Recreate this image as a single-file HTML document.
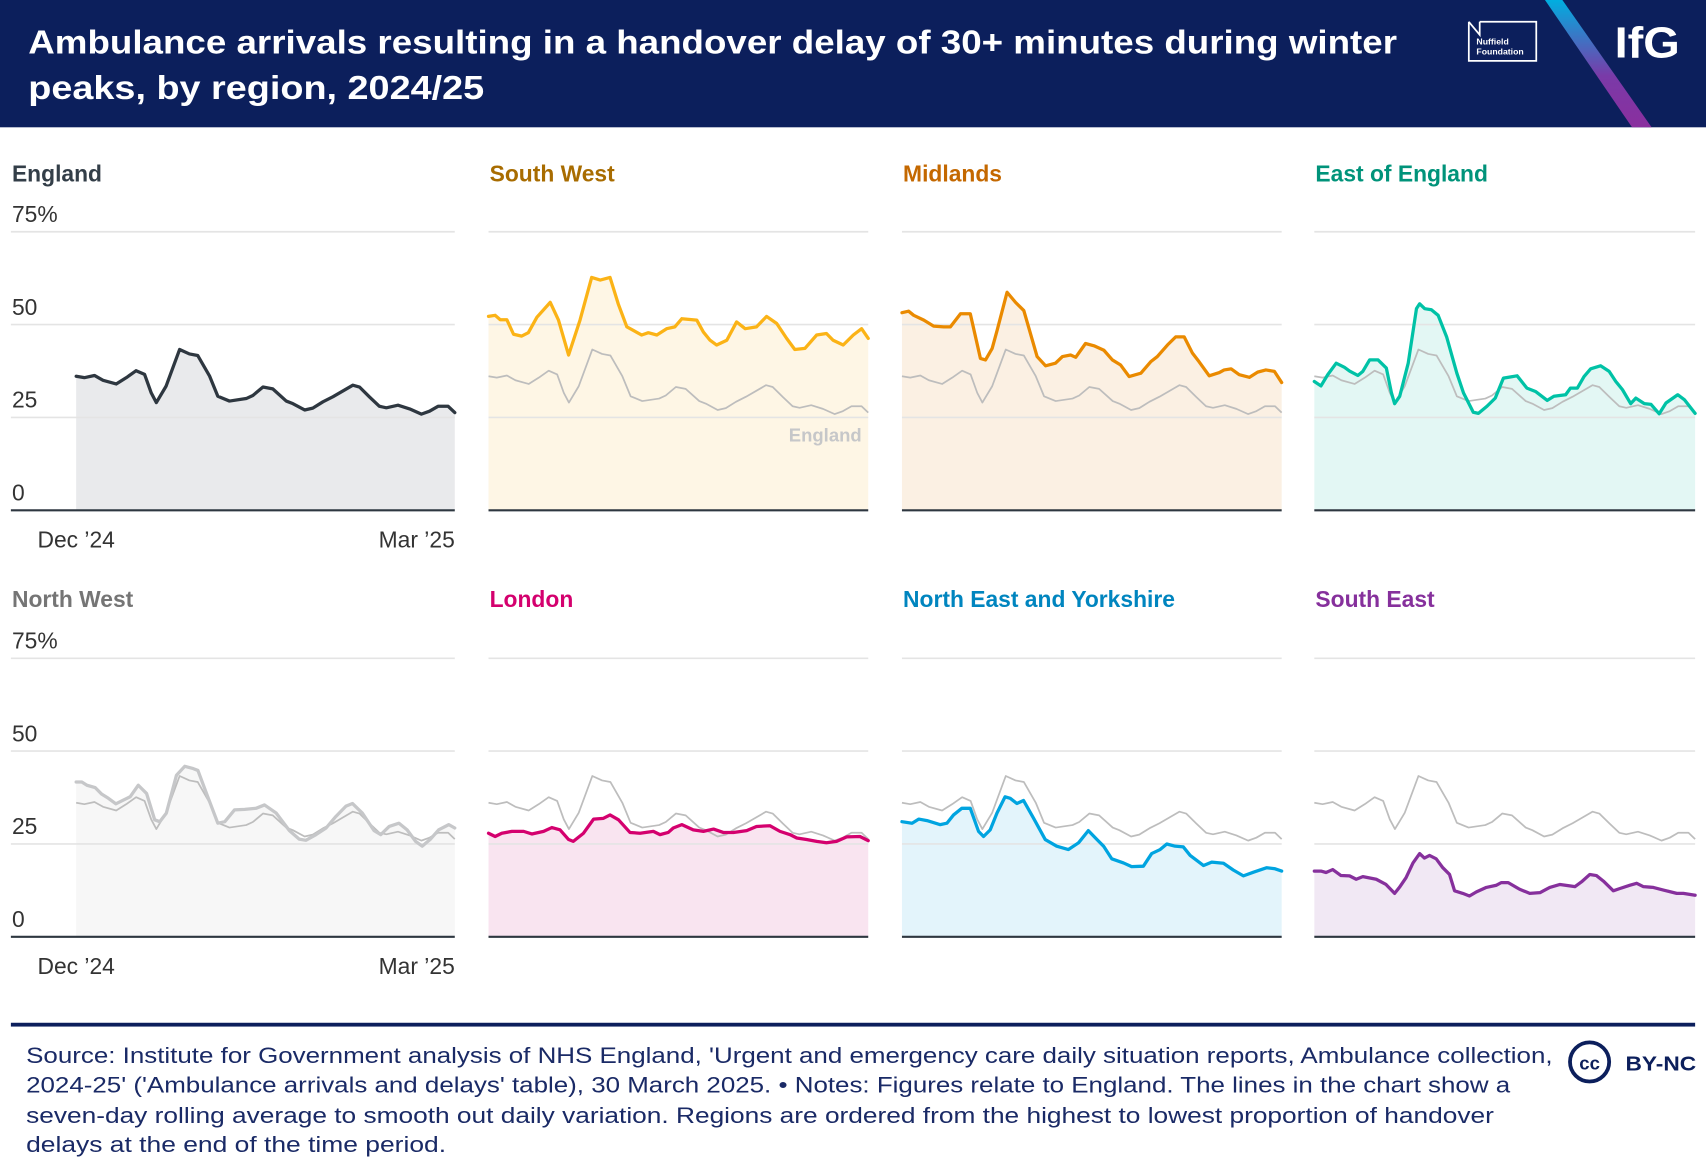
<!DOCTYPE html>
<html><head><meta charset="utf-8"><style>
html,body{margin:0;padding:0;background:#fff;}
svg{display:block;font-family:"Liberation Sans",sans-serif;}
</style></head><body>
<svg id="chart" width="1706" height="1174" viewBox="0 0 1568 1079" preserveAspectRatio="none" xmlns="http://www.w3.org/2000/svg">
<defs><linearGradient id="stripe" x1="0" y1="0" x2="0" y2="1"><stop offset="0" stop-color="#00aee0"/><stop offset="0.6" stop-color="#7a3aa8"/><stop offset="1" stop-color="#8a2f9e"/></linearGradient></defs>
<g>
<rect x="0" y="0" width="1568" height="117" fill="#0c1f5c"/>
<text x="26" y="49" fill="#fff" font-weight="bold" font-size="31" textLength="1258" lengthAdjust="spacingAndGlyphs">Ambulance arrivals resulting in a handover delay of 30+ minutes during winter</text>
<text x="26" y="91" fill="#fff" font-weight="bold" font-size="31" textLength="419" lengthAdjust="spacingAndGlyphs">peaks, by region, 2024/25</text>
<g>
<path d="M1350 20 L1350 56 L1412 56 L1412 20 L1360 20" fill="none" stroke="#fff" stroke-width="1.6"/>
<path d="M1350 20 L1360 32 L1360 20" fill="none" stroke="#fff" stroke-width="1.6"/>
<text x="1357" y="41" fill="#fff" font-size="8" font-weight="bold">Nuffield</text>
<text x="1357" y="50" fill="#fff" font-size="8" font-weight="bold">Foundation</text>
</g>
<polygon points="1420,0 1436,0 1518,117 1500,117" fill="url(#stripe)"/>
<text x="1484" y="53" fill="#fff" font-weight="bold" font-size="40" textLength="60" lengthAdjust="spacingAndGlyphs">IfG</text>
</g>
<g id="panels"></g>
<g>
<rect x="10" y="940" width="1548" height="3.5" fill="#0c1f5c"/>
<g fill="#1a2a66" font-size="20">
<text x="24" y="977" textLength="1403" lengthAdjust="spacingAndGlyphs">Source: Institute for Government analysis of NHS England, 'Urgent and emergency care daily situation reports, Ambulance collection,</text>
<text x="24" y="1004" textLength="1364" lengthAdjust="spacingAndGlyphs">2024-25' ('Ambulance arrivals and delays' table), 30 March 2025. • Notes: Figures relate to England. The lines in the chart show a</text>
<text x="24" y="1032" textLength="1349" lengthAdjust="spacingAndGlyphs">seven-day rolling average to smooth out daily variation. Regions are ordered from the highest to lowest proportion of handover</text>
<text x="24" y="1059" textLength="386" lengthAdjust="spacingAndGlyphs">delays at the end of the time period.</text>
</g>
<g>
<circle cx="1461" cy="976" r="18" fill="none" stroke="#0c1f5c" stroke-width="3.5"/>
<text x="1461" y="983" text-anchor="middle" font-size="17" font-weight="bold" fill="#0c1f5c">cc</text>
<text x="1494" y="984" font-size="19" font-weight="bold" fill="#0c1f5c" textLength="65" lengthAdjust="spacingAndGlyphs">BY-NC</text>
</g>
</g>
</svg>
<script>
const engDays=[0,2.6,5.8,8.5,12.7,15.9,19,21.7,23.8,25.4,28.5,32.8,35.9,38.5,42.3,44.9,48.6,53.9,56,59.2,62.3,66.6,68.7,72.4,75,78.2,81.4,87.7,89.8,93,96.1,98.3,102,105.7,109.4,112,114.7,117.9,120];
const engValues=[36.1,35.7,36.3,35,34,35.7,37.6,36.6,31.6,29,33.4,43.3,42.1,41.7,36.1,30.7,29.4,30.1,30.9,33.2,32.7,29.4,28.7,27,27.5,29.2,30.6,33.7,33.2,30.5,28,27.6,28.3,27.3,25.9,26.7,28,28,26.3];
const swDays=[0,2.1,3.7,5.8,7.9,10.5,12.6,15.3,19.5,22.1,25.3,28.9,32.6,35.3,38.4,41,43.7,48.4,50.5,53.2,56.3,58.9,61.1,65.8,67.9,70,72.1,75.3,78.4,81.1,84.7,87.9,91.1,94.2,96.8,100,103.7,106.8,108.9,112.1,115.3,117.9,120];
const swValues=[52.2,52.5,51.3,51.3,47.4,46.9,47.8,52,56,51.2,41.8,51.2,62.7,62,62.7,55.6,49.4,47.2,47.8,47.2,48.9,49.4,51.6,51.2,48,45.8,44.5,45.8,50.7,48.9,49.4,52.2,50.3,46.3,43.3,43.6,47.2,47.6,45.8,44.5,47.2,48.9,46.3];
const midDays=[0,2.1,3.7,6.9,10,13.2,15.3,18.5,21.6,24.8,26.4,28.5,30.1,33.2,35.9,38.5,42.7,45.4,48.5,50.7,53.3,54.9,58,60.7,63.8,66.5,69.1,71.8,75.5,78.6,80.7,83.9,86.5,89.2,91.8,93.9,97.1,100.3,101.8,104,106.6,109.8,112.4,115,117.7,120];
const midValues=[53.2,53.6,52.5,51.2,49.6,49.4,49.4,52.9,52.9,40.9,40.5,43.6,48.5,58.7,56,53.8,41.4,38.9,39.6,41.4,41.8,41.2,44.9,44.3,43.1,40.5,39.1,36,36.9,40,41.4,44.5,46.7,46.7,42.3,40,36.2,37.1,37.8,38.1,36.5,35.8,37.2,37.8,37.4,34.4];
const eoeDays=[0,2.1,4.2,6.9,9.5,11.1,13.7,15.3,17.4,20.1,22.7,24.3,25.3,26.9,29.6,32.2,33.2,34.8,36.9,39,41.7,44.9,47,50.1,51.7,54.4,57,59.6,61.7,63.9,67,69.7,73.4,75.5,79.2,80.7,82.9,85,87.1,90.2,92.9,95,97.1,99.7,101.3,104,106.1,108.7,110.8,114.5,116.6,120];
const eoeValues=[34.7,33.5,36.5,39.6,38.5,37.5,36.3,37.4,40.5,40.5,38.3,31.6,28.7,30.7,39.6,54.3,55.6,54.3,54,52.5,46.7,36.9,31.6,26.4,26.1,28,30.2,35.6,35.9,36.2,32.9,32,29.6,30.7,31.1,32.9,32.9,36,38.1,38.9,37.4,34.7,32.5,28.7,30.2,28.7,28.5,26,28.9,31.1,29.8,26.1];
const nwDays=[0,1.8,3.4,6,8.1,10.2,12.6,14.9,17.1,19.7,22.3,24.9,26.5,28.6,31.8,34.4,37.1,38.6,41.3,44.9,47.1,50.2,53.4,57,59.7,63.4,67.6,70.7,72.8,76,79.2,82.3,85.5,87.6,90.7,94.4,96.5,99.2,102.3,104.9,107.6,109.7,112.3,114.9,118.1,120];
const nwValues=[41.7,41.7,40.8,40.2,38.4,37.3,35.8,36.8,37.7,40.8,38.6,31.5,31,33.3,43.5,45.9,45.3,44.8,38.6,30.6,31,34.2,34.3,34.6,35.5,33.3,28.6,26.3,26,27.5,29.3,32.4,35.2,35.9,33.3,28.6,27.5,29.7,30.6,28.8,25.7,24.4,26.3,28.8,30.2,29.3];
const lonDays=[0,2.1,4.2,7.4,11.1,13.7,17.4,20,22.6,25.3,26.8,30,33.2,36.3,38.4,41.1,44.7,47.9,52.1,54.2,56.8,58.4,61.1,64.7,67.9,71.1,74.2,77.4,81.6,84.7,88.9,92.1,95.3,97.4,100.5,103.7,106.8,110,113.2,117.4,120];
const lonValues=[27.9,27,27.9,28.4,28.4,27.7,28.4,29.4,28.8,26.2,25.7,27.9,31.7,31.9,32.8,31.5,28.1,27.9,28.4,27.5,28.1,29.3,30.2,28.8,28.4,29,28.1,28.1,28.6,29.7,29.9,28.4,27.5,26.6,26.2,25.7,25.3,25.7,26.9,27,25.9];
const neyDays=[0,3.2,5.3,7.9,12.1,14.2,16.3,18.9,21.6,24.2,25.8,27.9,30,32.6,34.2,36.3,38.4,41.6,45.3,48.9,52.6,55.8,58.9,61.6,63.7,66.3,70,72.6,76.3,78.9,81.6,83.7,86.3,88.9,91.1,95.3,97.9,101.6,104.7,107.9,111.1,115.3,117.9,120];
const neyValues=[31,30.6,31.7,31.3,30.2,30.6,32.8,34.6,34.6,28.4,27,28.8,33.3,37.7,37.3,35.9,36.7,31.9,26.2,24.4,23.5,25.3,28.6,26.2,24.4,21,19.9,18.9,19,22.4,23.5,25,24.4,24.2,21.9,19.2,20.1,19.8,18,16.4,17.4,18.6,18.3,17.7];
const seDays=[0,2.1,3.7,5.8,8.4,11.1,13.2,15.3,19.5,22.6,25.3,26.8,28.9,31.1,33.2,34.7,36.3,38.4,40.5,42.6,44.2,46.8,48.9,51.1,54.2,57.4,58.9,61.1,64.7,67.9,71.1,74.2,77.4,80.5,82.1,84.2,86.8,88.9,91.1,94.2,96.3,99.5,101.6,103.7,106.8,110,114.2,116.3,120];
const seValues=[17.7,17.7,17.3,18.1,16.5,16.4,15.5,16.2,15.5,14.1,11.7,13.3,15.9,19.9,22.4,21.2,21.9,21,18.6,16.8,12.4,11.7,11,12.1,13.3,13.9,14.6,14.6,12.8,11.7,11.9,13.3,14.1,13.7,13.5,14.8,16.8,16.5,15,12.4,13,13.9,14.4,13.5,13.3,12.6,11.7,11.7,11.2];
const yTicks=[0,25,50,75];
const yTickLabels=["0","25","50","75%"];
const xTickLabels=["Dec \u201924","Mar \u201925"];
const dayMax=120, valMax=75;

const NS="http://www.w3.org/2000/svg";
const root=document.getElementById('panels');
function mk(tag,attrs,parent){const e=document.createElementNS(NS,tag);for(const k in attrs)e.setAttribute(k,attrs[k]);parent.appendChild(e);return e;}
const panels=[
 {name:'england',title:'England',tc:'#333e48',lc:'#2e3740',fc:'#e9eaec',days:engDays,vals:engValues,col:0,row:0,ref:false,axis:true},
 {name:'south-west',title:'South West',tc:'#a86c00',lc:'#fbb316',fc:'#fef6e5',days:swDays,vals:swValues,col:1,row:0,ref:true,label:true},
 {name:'midlands',title:'Midlands',tc:'#c46800',lc:'#ea8a00',fc:'#fbf0e3',days:midDays,vals:midValues,col:2,row:0,ref:true},
 {name:'east-of-england',title:'East of England',tc:'#00937a',lc:'#00c2a6',fc:'#e3f7f4',days:eoeDays,vals:eoeValues,col:3,row:0,ref:true},
 {name:'north-west',title:'North West',tc:'#757575',lc:'#c6c7c9',fc:'#f7f7f7',days:nwDays,vals:nwValues,col:0,row:1,ref:true,axis:true},
 {name:'london',title:'London',tc:'#d4006e',lc:'#d4006e',fc:'#f9e4f0',days:lonDays,vals:lonValues,col:1,row:1,ref:true},
 {name:'north-east-and-yorkshire',title:'North East and Yorkshire',tc:'#0085bf',lc:'#00a4e0',fc:'#e3f4fb',days:neyDays,vals:neyValues,col:2,row:1,ref:true},
 {name:'south-east',title:'South East',tc:'#86309c',lc:'#86309c',fc:'#f1e8f4',days:seDays,vals:seValues,col:3,row:1,ref:true}
];
const colX=[[70,418],[449,798],[829,1178],[1208,1558]];
const gridStart=[10,449,829,1208];
const rowBase=[469,861], rowTop=[213,605], rowOff=[0,391];
panels.forEach(p=>{
 const g=mk('g',{},root);
 
 
 const x0=colX[p.col][0],x1=colX[p.col][1],base=rowBase[p.row],top=rowTop[p.row],off=rowOff[p.row];
 const xs=d=>x0+d/dayMax*(x1-x0);
 const ys=v=>base-v/valMax*(base-top);
 const t=mk('text',{x:gridStart[p.col]+1,y:167+off,fill:p.tc,'font-size':21,'font-weight':'bold'},g);
 t.textContent=p.title;
 
 
 // fill area
 let d='M'+xs(p.days[0])+' '+base;
 p.days.forEach((dd,i)=>{d+=' L'+xs(dd).toFixed(1)+' '+ys(p.vals[i]).toFixed(1);});
 d+=' L'+xs(p.days[p.days.length-1])+' '+base+' Z';
 const area=mk('path',{d:d,fill:p.fc},g);
 
 
 // grid
 yTicks.forEach((tv,i)=>{
  if(tv>0){const gl=mk('line',{x1:gridStart[p.col],x2:x1,y1:ys(tv),y2:ys(tv),stroke:'#e4e4e4','stroke-width':1.5},g);
   
   }
  if(p.axis){const tl=mk('text',{x:11,y:ys(tv)-9,fill:'#333','font-size':21},g);tl.textContent=yTickLabels[i];
   
   }
 });
 // England reference line
 if(p.ref){
  const pts=engDays.map((dd,i)=>xs(dd).toFixed(1)+','+ys(engValues[i]).toFixed(1)).join(' ');
  const rl=mk('polyline',{points:pts,fill:'none',stroke:'#bdbdbd','stroke-width':1.6,'stroke-linejoin':'round'},g);
  
  
 }
 const pts=p.days.map((dd,i)=>xs(dd).toFixed(1)+','+ys(p.vals[i]).toFixed(1)).join(' ');
 const ln=mk('polyline',{points:pts,fill:'none',stroke:p.lc,'stroke-width':3,'stroke-linejoin':'round','stroke-linecap':'round'},g);
 
 
 const ax=mk('line',{x1:gridStart[p.col],x2:x1,y1:base,y2:base,stroke:'#2e3740','stroke-width':2},g);
 
 
 if(p.axis){
  const a=mk('text',{x:xs(0),y:base+34,fill:'#333','font-size':21,'text-anchor':'middle'},g);a.textContent=xTickLabels[0];
  
  
  const b=mk('text',{x:x1,y:base+34,fill:'#333','font-size':21,'text-anchor':'end'},g);b.textContent=xTickLabels[1];
  
  
 }
 if(p.label){
  const l=mk('text',{x:x1-6,y:base-63,fill:'#c6c7c9','font-size':17,'font-weight':'bold','text-anchor':'end'},g);l.textContent='England';
  
  
 }
});
</script>
</body></html>
